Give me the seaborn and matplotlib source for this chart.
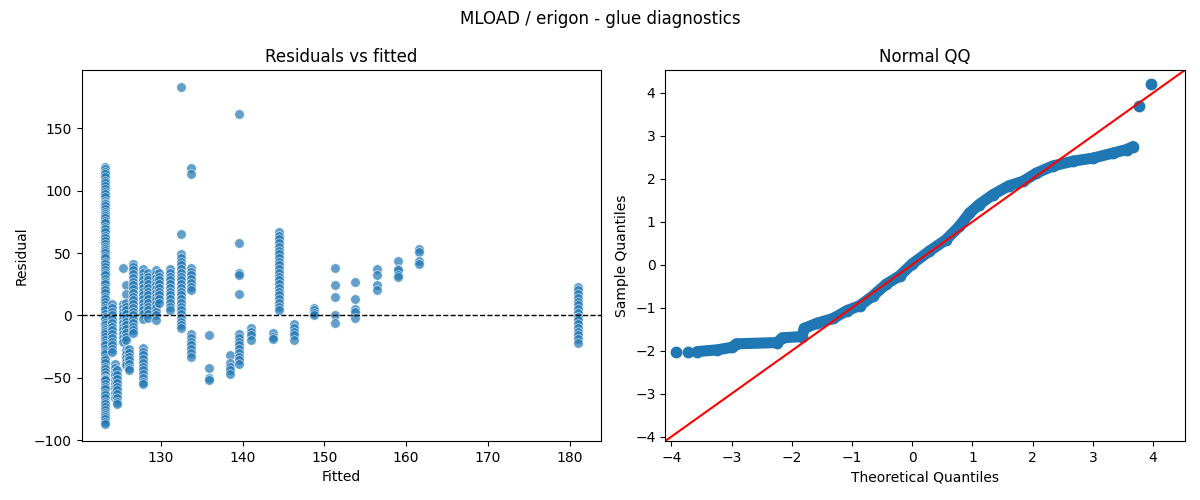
import numpy as np
import pandas as pd
import matplotlib
matplotlib.use("Agg")
import matplotlib.pyplot as plt
import seaborn as sns

# ---- Residuals vs fitted: one list of residuals per fitted level ----
fit_123_2 = [119, 117, 115, 113, 111, 108, 106, 104, 101, 99, 97, 95, 92, 90, 89, 88, 85, 83, 81, 80,
             78, 76, 74, 71, 69, 67, 64, 62, 60, 57, 55, 53, 52, 50, 48, 46, 43, 41, 39, 36, 34, 32,
             29, 27, 25, 22, 20, 18, 15, 13, 11, 8, 6, 4, 1, -1, -3, -6, -8, -10, -12, -13, -15, -17,
             -20, -22, -24, -27, -29, -31, -34, -36, -38, -41, -43, -45, -48, -50, -51, -52, -55, -57,
             -59, -62, -64, -66, -69, -71, -73, -76, -78, -80, -81, -83, -85, -87]
fit_124_0 = [9, 6, 3, 0, -3, -6, -9, -12, -15, -18, -21, -24, -27, -29]
fit_124_35 = [-39, -42, -45, -48, -52, -55, -58, -62, -66]
fit_124_6 = [-44, -48, -51, -54, -57, -60, -63, -66, -69, -71]
fit_125_4 = [38, 9, 6, 3, 0, -3, -6, -9, -12, -15, -18, -21]
fit_125_8 = [24, 17, 10, 7, 4, 1, -2, -5, -8, -11, -14, -17, -20, -28, -31, -34, -37, -40]
fit_126_1 = [-27, -30, -33, -36, -39, -42, -44]
fit_126_6 = [41, 39, 36, 33, 30, 27, 24, 21, 18, 15, 12, 9, 6, 3, 0, -3, -6, -9, -12, -14]
fit_127_8 = [37, 34, 31, 28, 25, 22, 19, 16, 13, 10, 7, 4, 1, -3,
             -26, -29, -32, -35, -38, -41, -44, -47, -50, -53, -55]
fit_128_4 = [34, 31, 28, 25, 22, 19, 16, 13, 10, 7, 4, 1, -2]
fit_129_4 = [36, 33, 30, 27, 24, 21, 18, 15, 12, 9, 6, 3, 0, -4]
fit_129_8 = [34, 31, 28, 25, 22, 19, 16, 13, 10]
fit_131_1 = [37, 34, 31, 28, 25, 22, 19, 16, 13, 10, 7, 4]
fit_132_5 = [183, 65, 49, 46, 43, 40, 37, 34, 31, 28, 25, 22, 19, 16, 13, 10, 7, 4, 1, -2, -5, -8, -10]
fit_133_7 = [118, 113, 38, 35, 32, 29, 26, 23, 20, -15, -18, -21, -24, -27, -30, -33]
fit_135_9 = [-16, -42, -50, -52]
fit_138_5 = [-32, -38, -41, -44, -47]
fit_139_6 = [161, 58, 34, 32, 17, -15, -18, -21, -24, -27, -30, -33, -36, -39]
fit_141_0 = [-10, -13, -16, -20]
fit_143_7 = [-14, -17, -19]
fit_144_4 = [67, 64, 61, 58, 55, 52, 49, 46, 43, 40, 37, 34, 31, 28, 25, 22, 19, 16, 13, 10, 7, 4]
fit_146_3 = [-7, -10, -13, -16, -20]
fit_148_7 = [6, 4, 2, 0]
fit_151_3 = [38, 24, 15, 0.5, -6]
fit_153_8 = [27, 13.5, 5, 2.4, -1.7]
fit_156_4 = [37, 32, 24, 20]
fit_159_0 = [43.5, 37, 36, 32, 31]
fit_161_6 = [53, 51, 43.5, 41]
fit_181_0 = [23, 20, 17, 14, 11, 8, 5, 2, -1, -4, -7, -10, -13, -16, -19, -22]

fitted_levels = [123.2, 124.0, 124.35, 124.6, 125.4, 125.8, 126.1, 126.6, 127.8, 128.4,
                 129.4, 129.8, 131.1, 132.5, 133.7, 135.9, 138.5, 139.6, 141.0, 143.7,
                 144.4, 146.3, 148.7, 151.3, 153.8, 156.4, 159.0, 161.6, 181.0]
residual_groups = [fit_123_2, fit_124_0, fit_124_35, fit_124_6, fit_125_4, fit_125_8, fit_126_1,
                   fit_126_6, fit_127_8, fit_128_4, fit_129_4, fit_129_8, fit_131_1, fit_132_5,
                   fit_133_7, fit_135_9, fit_138_5, fit_139_6, fit_141_0, fit_143_7, fit_144_4,
                   fit_146_3, fit_148_7, fit_151_3, fit_153_8, fit_156_4, fit_159_0, fit_161_6,
                   fit_181_0]

# ---- Normal QQ: points ----
qq_theoretical = [-3.57, -3.24, -2.99, -2.92, -2.24, -2.16, -1.83, -1.79, -1.58, -1.31, -1.09,
                  -0.87, -0.65, -0.43, -0.21, 0.00, 0.28, 0.56, 0.78, 0.95, 1.11, 1.34, 1.61,
                  1.84, 2.06, 2.34, 2.67, 3.00, 3.34, 3.56, 3.67]
qq_sample = [-2.02, -1.98, -1.92, -1.84, -1.81, -1.70, -1.67, -1.48, -1.36, -1.25, -1.07,
             -0.95, -0.72, -0.45, -0.26, 0.02, 0.31, 0.58, 0.89, 1.20, 1.40, 1.63, 1.84,
             1.94, 2.13, 2.30, 2.41, 2.48, 2.60, 2.68, 2.75]
qq_extreme_theoretical = [-3.92, -3.72, 3.77, 3.96]
qq_extreme_sample = [-2.02, -2.02, 3.70, 4.21]

rows = []
for f, grp in zip(fitted_levels, residual_groups):
    for r in grp:
        rows.append((f, r))
df = pd.DataFrame(rows, columns=["Fitted", "Residual"])

plt.rcParams['font.family'] = ['DejaVu Sans']

fig, (ax1, ax2) = plt.subplots(1, 2, figsize=(12, 5), dpi=100)
fig.subplots_adjust(left=0.068, right=0.9875, top=0.86, bottom=0.118, wspace=0.123)

blue = "#1f77b4"
sns.scatterplot(data=df, x="Fitted", y="Residual", ax=ax1, alpha=0.7, s=48, color=blue)
ax1.axhline(0, color="black", linestyle="--", linewidth=1)
ax1.set_title("Residuals vs fitted")

ax2.plot(qq_theoretical, qq_sample, color=blue, linewidth=8, solid_capstyle="round",
         solid_joinstyle="round", marker="o", markersize=7.5)
ax2.plot(qq_extreme_theoretical, qq_extreme_sample, linestyle="none", marker="o",
         markersize=7.5, color=blue)
lims = (-4.1, 4.53)
ax2.plot(lims, lims, color="red", linewidth=1.5)
ax2.set_xlim(lims)
ax2.set_ylim(lims)
ax2.set_xlabel("Theoretical Quantiles")
ax2.set_ylabel("Sample Quantiles")
ax2.set_title("Normal QQ")

fig.suptitle("MLOAD / erigon - glue diagnostics", fontsize=12)
fig.savefig("out.png", dpi=100)
